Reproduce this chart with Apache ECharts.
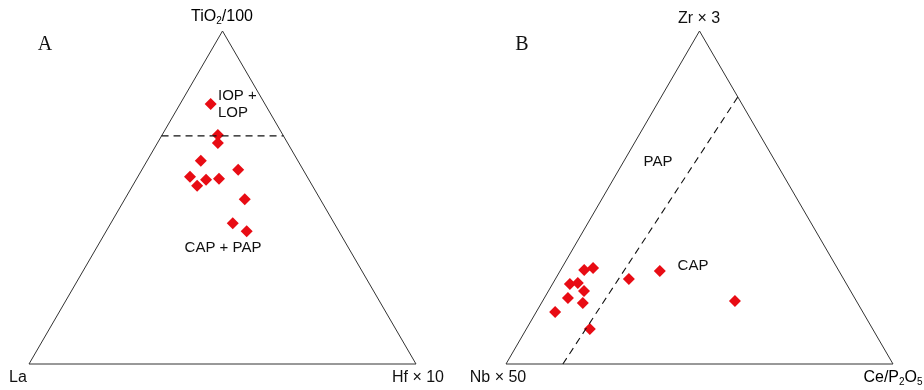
<!DOCTYPE html>
<html>
<head>
<meta charset="utf-8">
<script src="https://cdn.jsdelivr.net/npm/echarts@6/dist/echarts.min.js"></script>
<style>html,body{margin:0;padding:0;background:#fff;}#c{width:924px;height:390px;}</style>
</head>
<body>
<div id="c"></div>
<script>
// Diagram A: La – Hf×10 – TiO2/100 (percent)
const aLa   = [14.0, 16.8, 18.0, 25.1, 16.8, 30.3, 26.6, 29.8, 23.1, 19.5, 26.2, 23.8];
const aHf   = [ 7.9, 14.4, 15.6, 13.9, 24.9, 13.5, 18.1, 16.7, 21.3, 31.0, 31.5, 36.3];
const aTi   = [78.1, 68.8, 66.4, 61.0, 58.3, 56.2, 55.3, 53.5, 55.6, 49.5, 42.3, 39.9];
const aBoundaryTi = 68.5;

// Diagram B: Nb×50 – Ce/P2O5 – Zr×3 (percent)
const bNb   = [65.7, 63.1, 71.5, 69.3, 68.9, 74.1, 71.0, 79.5, 73.1, 55.5, 46.3, 31.4];
const bCe   = [ 6.1,  8.1,  4.5,  6.4,  9.2,  6.1, 10.7,  4.9, 16.4, 19.0, 25.8, 49.7];
const bZr   = [28.2, 28.8, 24.0, 24.3, 21.9, 19.8, 18.3, 15.6, 10.5, 25.5, 27.9, 18.9];
const bBoundaryStart = [85.3, 14.7, 0];   // [Nb, Ce, Zr]
const bBoundaryEnd   = [0, 19.8, 80.2];

function tern(l, r, t) { const s = l + r + t; r = r / s * 100; t = t / s * 100; return [r + t / 2, t]; }

const triangle = [tern(100,0,0), tern(0,100,0), tern(0,0,100), tern(100,0,0)];
const ptsA = aLa.map((v, i) => tern(v, aHf[i], aTi[i]));
const ptsB = bNb.map((v, i) => tern(v, bCe[i], bZr[i]));
const dashA = [tern(100 - aBoundaryTi, 0, aBoundaryTi), tern(0, 100 - aBoundaryTi, aBoundaryTi)];
const dashB = [tern(...bBoundaryStart), tern(...bBoundaryEnd)];

const red = '#e80c14';
const txt = (x, y, text, extra) => Object.assign({
  type: 'text', x: x, y: y,
  style: Object.assign({ text: text, font: '15px "Liberation Sans", Arial, sans-serif', fill: '#111', textAlign: 'center', textVerticalAlign: 'middle' }, extra || {})
});
const big = { font: '16px "Liberation Sans", Arial, sans-serif' };
const rich = {
  n: { fontSize: 16, fontFamily: 'Liberation Sans', color: '#111' },
  s: { fontSize: 10, fontFamily: 'Liberation Sans', color: '#111', verticalAlign: 'bottom', padding: [8, 0, 0, 0] }
};

const axisX = (g) => ({ gridIndex: g, type: 'value', min: 0, max: 100, show: false });
const axisY = (g) => ({ gridIndex: g, type: 'value', min: 0, max: 100, show: false });

const chart = echarts.init(document.getElementById('c'));
chart.setOption({
  animation: false,
  backgroundColor: '#fff',
  grid: [
    { left: 29, top: 31, width: 387, height: 333 },
    { left: 506, top: 31, width: 387, height: 333 }
  ],
  xAxis: [axisX(0), axisX(1)],
  yAxis: [axisY(0), axisY(1)],
  series: [
    { type: 'line', xAxisIndex: 0, yAxisIndex: 0, data: triangle, symbol: 'none', lineStyle: { color: '#333', width: 1 }, clip: false },
    { type: 'line', xAxisIndex: 1, yAxisIndex: 1, data: triangle, symbol: 'none', lineStyle: { color: '#333', width: 1 }, clip: false },
    { type: 'line', xAxisIndex: 0, yAxisIndex: 0, data: dashA, symbol: 'none', lineStyle: { color: '#111', width: 1.1, type: [7, 5] }, clip: false },
    { type: 'line', xAxisIndex: 1, yAxisIndex: 1, data: dashB, symbol: 'none', lineStyle: { color: '#111', width: 1.1, type: [7, 5] }, clip: false },
    { type: 'scatter', xAxisIndex: 0, yAxisIndex: 0, data: ptsA, symbol: 'diamond', symbolSize: 12, itemStyle: { color: red, opacity: 1 }, clip: false },
    { type: 'scatter', xAxisIndex: 1, yAxisIndex: 1, data: ptsB, symbol: 'diamond', symbolSize: 12, itemStyle: { color: red, opacity: 1 }, clip: false }
  ],
  graphic: [
    txt(45, 45, 'A', { font: '20px "Liberation Serif", "Times New Roman", serif' }),
    txt(522, 45, 'B', { font: '20px "Liberation Serif", "Times New Roman", serif' }),
    { type: 'text', x: 222, y: 17, style: { text: '{n|TiO}{s|2}{n|/100}', rich: rich, textAlign: 'center', textVerticalAlign: 'middle' } },
    txt(18, 378, 'La', big),
    txt(418, 378, 'Hf × 10', big),
    txt(498, 378, 'Nb × 50', big),
    { type: 'text', x: 893, y: 378, style: { text: '{n|Ce/P}{s|2}{n|O}{s|5}', rich: rich, textAlign: 'center', textVerticalAlign: 'middle' } },
    txt(699, 19, 'Zr × 3', big),
    txt(218, 96, 'IOP +', { textAlign: 'left' }),
    txt(218, 113, 'LOP', { textAlign: 'left' }),
    txt(223, 248, 'CAP + PAP'),
    txt(658, 162, 'PAP'),
    txt(693, 266, 'CAP')
  ]
});
</script>
</body>
</html>
